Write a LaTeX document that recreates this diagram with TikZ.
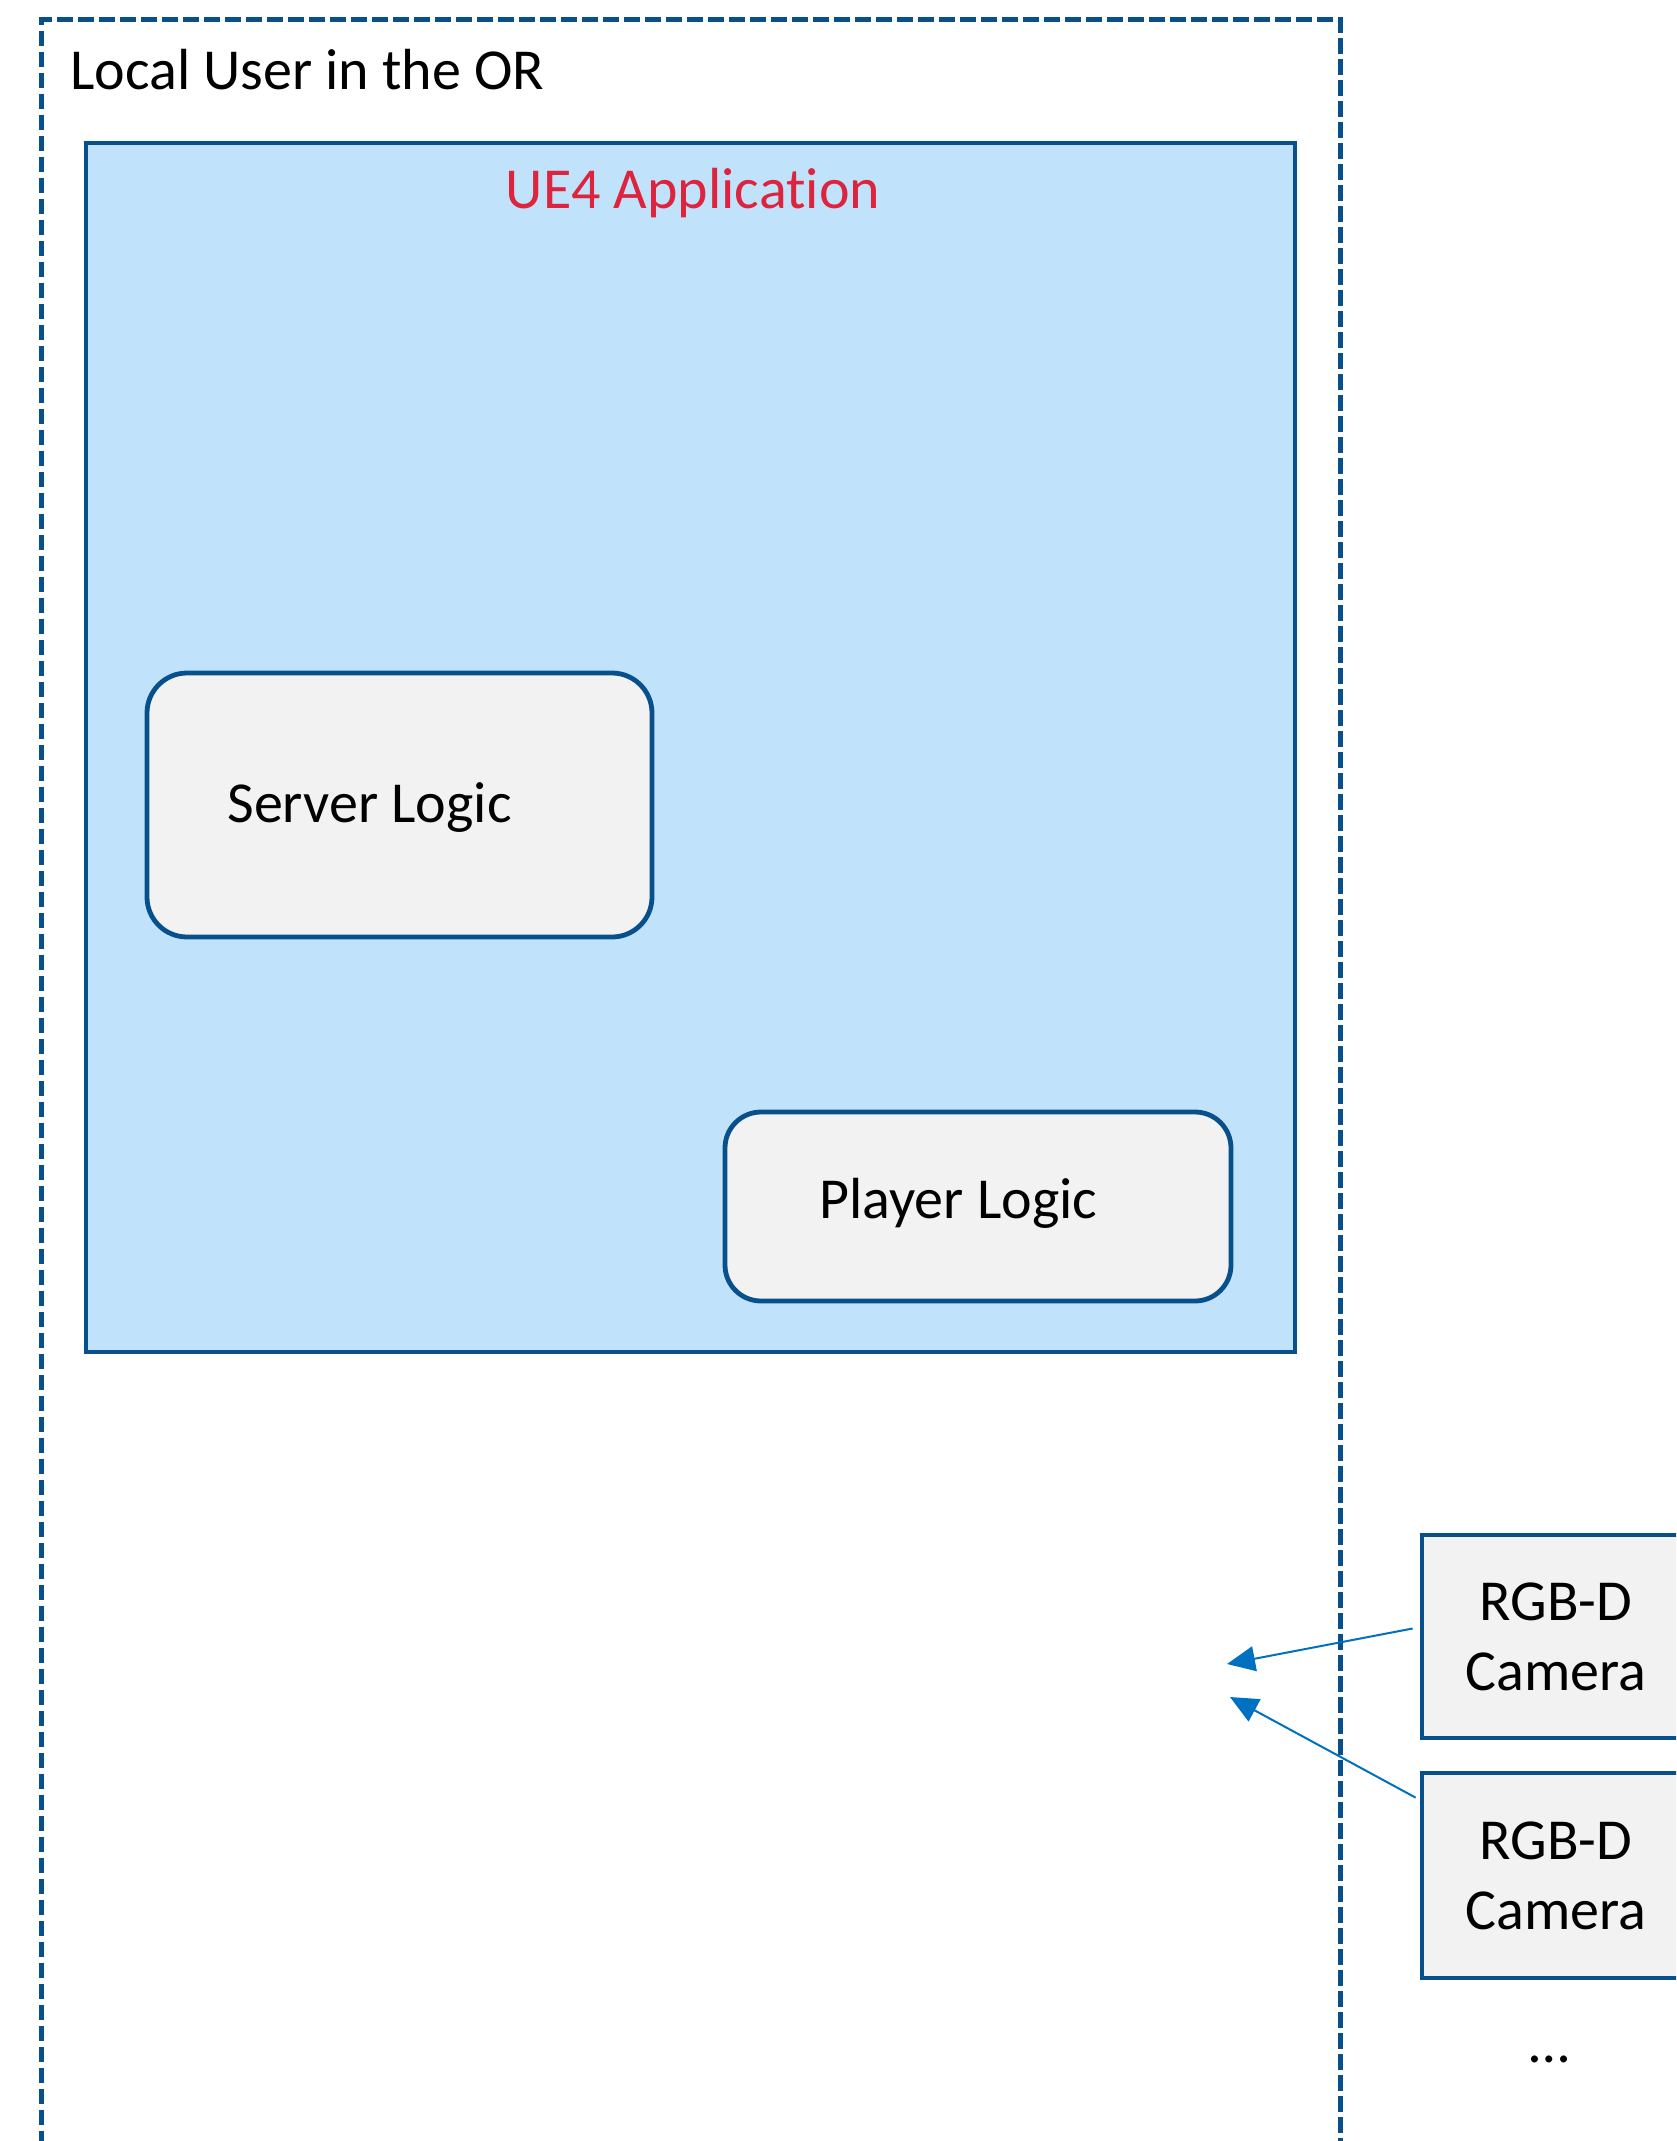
\documentclass[tikz,border=0pt]{standalone}
\usepackage{fontspec}
\setmainfont{Carlito}[Ligatures=NoCommon]
\usetikzlibrary{arrows.meta,calc}
\definecolor{boxblue}{RGB}{8,80,140}
\definecolor{appfill}{RGB}{192,227,251}
\definecolor{grayfill}{RGB}{242,242,242}
\definecolor{arrowblue}{RGB}{0,112,192}
\definecolor{titlered}{RGB}{220,36,62}
\tikzset{
  base text/.style={font=\fontsize{29pt}{35pt}\selectfont, text=black},
  outerbox/.style={draw=boxblue, line width=2.6pt, dash pattern=on 7.9pt off 2.6pt, rectangle, inner sep=0pt},
  appbox/.style={draw=boxblue, fill=appfill, line width=2.4pt, rectangle, inner sep=0pt},
  logicbox/.style={draw=boxblue, fill=grayfill, line width=2.4pt, rectangle, inner sep=0pt},
  cambox/.style={draw=boxblue, fill=grayfill, line width=2.4pt, rectangle, inner sep=0pt, base text, align=center},
  plainlabel/.style={base text, inner sep=0pt},
  feed/.style={draw=arrowblue, line width=1pt, -{Triangle[length=14pt,width=12.5pt]}}
}
\begin{document}
\begin{tikzpicture}[x=0.5pt,y=-0.5pt]
\path[use as bounding box] (0,0) rectangle (1676,2141);
\clip (0,0) rectangle (1676,2141);
% outer dashed container (open at the bottom of the page)
\node[outerbox, minimum width=649.5pt, minimum height=1100pt, anchor=north west] (outer) at (39,17) {};
\node[plainlabel, anchor=base west] (outertitle) at (70,90) {Local User in the OR};
% UE4 application box
\node[appbox, minimum width=604.5pt, minimum height=604.5pt] (app) at (690.5,747.5) {};
\node[plainlabel, text=titlered, anchor=base] (apptitle) at (693,208) {UE4 Application};
% logic boxes
\node[logicbox, rounded corners=20pt, minimum width=252.5pt, minimum height=132pt] (server) at (399.5,805) {};
\node[plainlabel, anchor=base west] (serverlabel) at (227,822) {Server Logic};
\node[logicbox, rounded corners=18pt, minimum width=253pt, minimum height=94.5pt] (player) at (978,1206.5) {};
\node[plainlabel, anchor=base west] (playerlabel) at (819,1218) {Player Logic};
% cameras
\node[cambox, minimum width=134pt, minimum height=101.5pt] (cam1) at (1556,1636.5) {RGB-D\\Camera};
\node[cambox, minimum width=134pt, minimum height=102.5pt] (cam2) at (1556,1875.5) {RGB-D\\Camera};
\node[plainlabel, anchor=base] (more) at (1550,2062) {…};
% arrows
\coordinate (tip1) at (1227,1664);
\coordinate (tip2) at (1230,1697);
\draw[feed] ($(cam1.west)+(-7,-8)$) -- (tip1);
\draw[feed] ($(cam2.north west)+(-4,27)$) -- (tip2);
\end{tikzpicture}
\end{document}
